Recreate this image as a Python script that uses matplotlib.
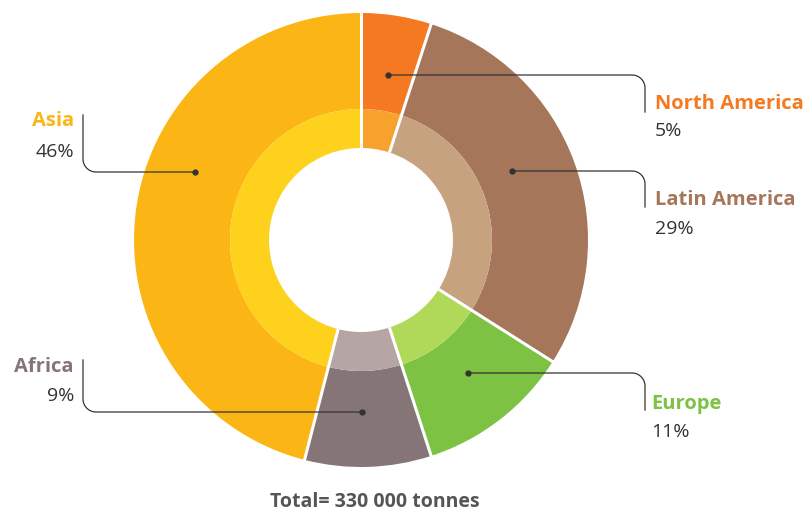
import numpy as np
import matplotlib
matplotlib.use('Agg')
import matplotlib.pyplot as plt

regions = ['North America', 'Latin America', 'Europe', 'Africa', 'Asia']
shares = [5, 29, 11, 9, 46]
outer_colors = ['#F47920', '#A5765A', '#7DC242', '#857577', '#FBB615']
inner_colors = ['#F8A22E', '#C7A27F', '#B0D95A', '#B5A5A5', '#FDD11C']
total_label = 'Total= 330 000 tonnes'

W, H = 806, 515
CX, CY = 361, 240
R_OUT, R_MID, R_HOLE = 227, 131, 92

# leader layout: dot, corner x, end of vertical, label x, name y, pct y, side
leaders = {
    'North America': ((388, 75), 645, 112, 655, 104, 131, 'right'),
    'Latin America': ((512, 171), 645, 207, 655, 200, 229, 'right'),
    'Europe': ((468, 373), 645, 410, 651, 404, 432, 'right'),
    'Africa': ((362, 412), 83, 360, 74, 367, 396, 'left'),
    'Asia': ((195, 172), 83, 115, 74, 121, 152, 'left'),
}

fig = plt.figure(figsize=(W / 100, H / 100), dpi=100)
ax = fig.add_axes([0, 0, 1, 1])

# y axis is inverted below, so counterclock in data is clockwise on screen
ax.pie(shares, colors=outer_colors, radius=R_OUT, center=(CX, CY),
       startangle=-90, counterclock=True,
       wedgeprops=dict(width=R_OUT - R_MID, linewidth=0))
ax.pie(shares, colors=inner_colors, radius=R_MID, center=(CX, CY),
       startangle=-90, counterclock=True,
       wedgeprops=dict(width=R_MID - R_HOLE, linewidth=0))

# white separators between slices
bounds = -90 + np.cumsum([0] + shares) / 100 * 360
for a in bounds[:-1]:
    t = np.radians(a)
    ax.plot([CX + R_HOLE * np.cos(t), CX + (R_OUT + 1) * np.cos(t)],
            [CY + R_HOLE * np.sin(t), CY + (R_OUT + 1) * np.sin(t)],
            color='white', lw=2.2, solid_capstyle='butt', zorder=3)

ax.set_xlim(0, W)
ax.set_ylim(H, 0)
ax.set_aspect('equal')
ax.axis('off')

rc = 13
for name, share, col in zip(regions, shares, outer_colors):
    (dx, dy), cx, vend, lx, ny, py, side = leaders[name]
    if side == 'right':
        # horizontal to the right then arc downward
        th = np.linspace(-np.pi / 2, 0, 20)
        arc_x = cx - rc + rc * np.cos(th)
        arc_y = dy + rc + rc * np.sin(th)
        ha = 'left'
    else:
        th = np.linspace(np.pi / 2, np.pi, 20)
        arc_x = cx + rc + rc * np.cos(th)
        arc_y = dy - rc + rc * np.sin(th)
        ha = 'right'
    xs = np.concatenate([[dx], arc_x, [cx]])
    ys = np.concatenate([[dy], arc_y, [vend]])
    ax.plot(xs, ys, color='#333333', lw=0.9, zorder=4)
    ax.plot(dx, dy, 'o', color='#333333', ms=3.5, zorder=5)
    ax.text(lx, ny, name, ha=ha, va='center', color=col,
            fontsize=14.5, fontweight='bold', family='Open Sans')
    ax.text(lx, py, '%d%%' % share, ha=ha, va='center', color='#333333',
            fontsize=14, family='Open Sans')

ax.text(375, 502, total_label, ha='center', va='center', color='#555555',
        fontsize=14, fontweight='bold', family='Open Sans')

fig.savefig('out.png', dpi=100)
